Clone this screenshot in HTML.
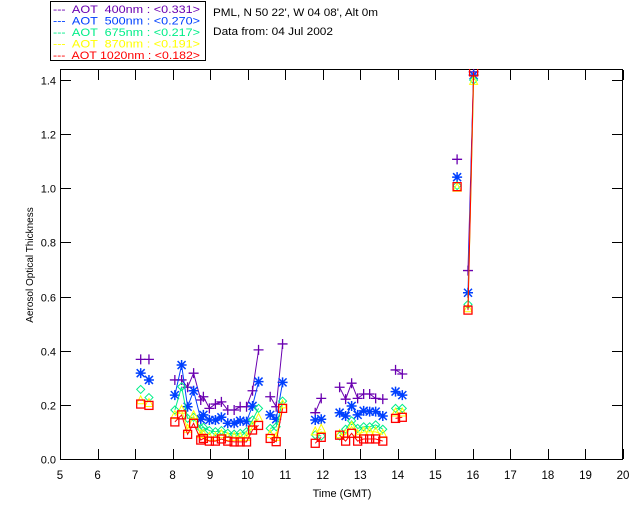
<!DOCTYPE html>
<html><head><meta charset="utf-8">
<style>
html,body{margin:0;padding:0;background:#fff;}
svg{display:block;font-family:"Liberation Sans",sans-serif;}
</style></head>
<body>
<svg id="chart" width="640" height="512" viewBox="0 0 640 512">
  <g>
    <rect x="50.5" y="1.5" width="155" height="59" fill="#fff" stroke="#000"/>
    <text x="53" y="13" font-size="11" fill="#6a00b0" textLength="147" lengthAdjust="spacingAndGlyphs" xml:space="preserve">---  AOT  400nm : &lt;0.331&gt;</text>
    <text x="53" y="24.5" font-size="11" fill="#0040ff" textLength="147" lengthAdjust="spacingAndGlyphs" xml:space="preserve">---  AOT  500nm : &lt;0.270&gt;</text>
    <text x="53" y="36" font-size="11" fill="#00ee88" textLength="147" lengthAdjust="spacingAndGlyphs" xml:space="preserve">---  AOT  675nm : &lt;0.217&gt;</text>
    <text x="53" y="47.5" font-size="11" fill="#ffff00" textLength="147" lengthAdjust="spacingAndGlyphs" xml:space="preserve">---  AOT  870nm : &lt;0.191&gt;</text>
    <text x="53" y="59" font-size="11" fill="#ff0000" textLength="147" lengthAdjust="spacingAndGlyphs" xml:space="preserve">---  AOT 1020nm : &lt;0.182&gt;</text>
  </g>
  <text x="213" y="16" font-size="11" fill="#000" textLength="165" lengthAdjust="spacingAndGlyphs">PML, N 50 22', W 04 08', Alt 0m</text>
  <text x="213" y="35" font-size="11" fill="#000" textLength="120" lengthAdjust="spacingAndGlyphs">Data from: 04 Jul 2002</text>
  <rect x="60.5" y="69.5" width="562" height="390" fill="none" stroke="#000"/>
  <g id="axes"></g>
  <clipPath id="clip"><rect x="60" y="69" width="563" height="391"/></clipPath>
  <g id="marks" clip-path="url(#clip)"></g>
  <text x="342" y="497" font-size="11" text-anchor="middle">Time (GMT)</text>
  <text transform="translate(33,265) rotate(-90)" font-size="10" text-anchor="middle">Aerosol Optical Thickness</text>
</svg>
<script>
const times = [7.15,7.37, 8.06,8.24,8.40,8.56,8.75,8.82,8.98,9.14,9.30,9.47,9.64,9.80,9.97,10.13,10.29, 10.60,10.76,10.93, 11.80,11.96, 12.45,12.61,12.77,12.93,13.09,13.25,13.41,13.60, 13.94,14.12, 15.58, 15.87,16.02];
const aot400 = [0.368,0.368, 0.292,0.292,0.265,0.317,0.218,0.230,0.187,0.203,0.211,0.181,0.181,0.193,0.193,0.252,0.403, 0.230,0.193,0.425, 0.171,0.224, 0.265,0.221,0.280,0.224,0.240,0.240,0.224,0.221, 0.329,0.314, 1.107, 0.696,1.43];
const aot500 = [0.317,0.292, 0.236,0.347,0.193,0.252,0.147,0.163,0.144,0.144,0.154,0.132,0.132,0.141,0.138,0.196,0.286, 0.163,0.147,0.283, 0.144,0.147, 0.171,0.159,0.196,0.163,0.178,0.175,0.175,0.159, 0.249,0.236, 1.041, 0.614,1.418];
const aot675 = [0.257,0.227, 0.181,0.267,0.150,0.154,0.113,0.117,0.105,0.101,0.105,0.095,0.092,0.095,0.101,0.144,0.187, 0.113,0.119,0.214, 0.089,0.085, 0.085,0.110,0.141,0.113,0.119,0.119,0.126,0.110, 0.187,0.187, 1.010, 0.571,1.40];
const aot870 = [0.215,0.205, 0.160,0.180,0.110,0.160,0.090,0.090,0.080,0.080,0.090,0.080,0.080,0.080,0.080,0.120,0.150, 0.090,0.080,0.200, 0.100,0.110, 0.090,0.090,0.120,0.090,0.100,0.100,0.100,0.090, 0.170,0.170, 1.000, 0.555,1.395];
const aot1020 = [0.203,0.198, 0.137,0.163,0.091,0.132,0.070,0.076,0.066,0.066,0.074,0.066,0.063,0.063,0.063,0.107,0.124, 0.076,0.064,0.187, 0.058,0.080, 0.088,0.066,0.095,0.066,0.074,0.074,0.074,0.066, 0.150,0.154, 1.006, 0.550,1.43];
const xTicks = [5,6,7,8,9,10,11,12,13,14,15,16,17,18,19,20];
const yTicks = [0.0,0.2,0.4,0.6,0.8,1.0,1.2,1.4];

const NS = "http://www.w3.org/2000/svg";
const X0=60, X1=623, Y0=459, YTOP=80;
const xs = t => X0 + (t-5)/15*(X1-X0);
const ys = v => Y0 - v/1.4*(Y0-YTOP);
function mk(tag, attrs, parent){const e=document.createElementNS(NS,tag);for(const k in attrs)e.setAttribute(k,attrs[k]);parent.appendChild(e);return e;}
const axes=document.getElementById('axes'), marks=document.getElementById('marks');

xTicks.forEach(t=>{
  const x=Math.round(xs(t))+0.5;
  const a=mk('line',{x1:x,x2:x,y1:459,y2:449,stroke:'#000'},axes);
  
  
  const b=mk('line',{x1:x,x2:x,y1:70,y2:80,stroke:'#000'},axes);
  
  
  const l=mk('text',{x:xs(t),y:479,'font-size':11.5,'text-anchor':'middle'},axes);
  l.textContent=String(t);
  
  
});
yTicks.forEach(v=>{
  const y=Math.round(ys(v))+0.5;
  const a=mk('line',{x1:61,x2:71,y1:y,y2:y,stroke:'#000'},axes);
  
  
  const b=mk('line',{x1:612,x2:622,y1:y,y2:y,stroke:'#000'},axes);
  
  
  const l=mk('text',{x:56,y:y+4,'font-size':11,'text-anchor':'end'},axes);
  l.textContent=v.toFixed(1);
  
  
});

const series=[
  {name:'400',vals:aot400,color:'#6a00b0',m:'plus'},
  {name:'500',vals:aot500,color:'#0040ff',m:'star'},
  {name:'675',vals:aot675,color:'#00ee88',m:'diamond'},
  {name:'870',vals:aot870,color:'#ffff00',m:'tri'},
  {name:'1020',vals:aot1020,color:'#ff0000',m:'square'}
];
series.forEach(s=>{
  const g=mk('g',{},marks);
  
  
  let d='';
  for(let i=0;i<times.length;i++){
    const x=xs(times[i]).toFixed(1), y=ys(s.vals[i]).toFixed(1);
    if(i>0 && times[i]-times[i-1]<=0.2) d+=' L'+x+' '+y; else d+=' M'+x+' '+y;
  }
  const p=mk('path',{d:d,fill:'none',stroke:s.color,'stroke-width':1},g);
  
  
  for(let i=0;i<times.length;i++){
    const x=xs(times[i]), y=ys(s.vals[i]);
    let e;
    if(s.m==='plus') e=mk('path',{d:`M${x-5} ${y}H${x+5}M${x} ${y-5}V${y+5}`,stroke:s.color,fill:'none','stroke-width':1.3},g);
    else if(s.m==='star') e=mk('path',{d:`M${x-5} ${y}H${x+5}M${x} ${y-5}V${y+5}M${x-4} ${y-4}L${x+4} ${y+4}M${x-4} ${y+4}L${x+4} ${y-4}`,stroke:s.color,fill:'none','stroke-width':1.5},g);
    else if(s.m==='diamond') e=mk('path',{d:`M${x} ${y-4}L${x+4} ${y}L${x} ${y+4}L${x-4} ${y}Z`,stroke:s.color,fill:'none'},g);
    else if(s.m==='tri') e=mk('path',{d:`M${x} ${y-5}L${x+4} ${y+3}L${x-4} ${y+3}Z`,stroke:s.color,fill:'none'},g);
    else e=mk('rect',{x:x-4,y:y-4,width:8,height:8,stroke:s.color,fill:'none','stroke-width':1.3},g);
    
    
  }
});
</script>
</body></html>
